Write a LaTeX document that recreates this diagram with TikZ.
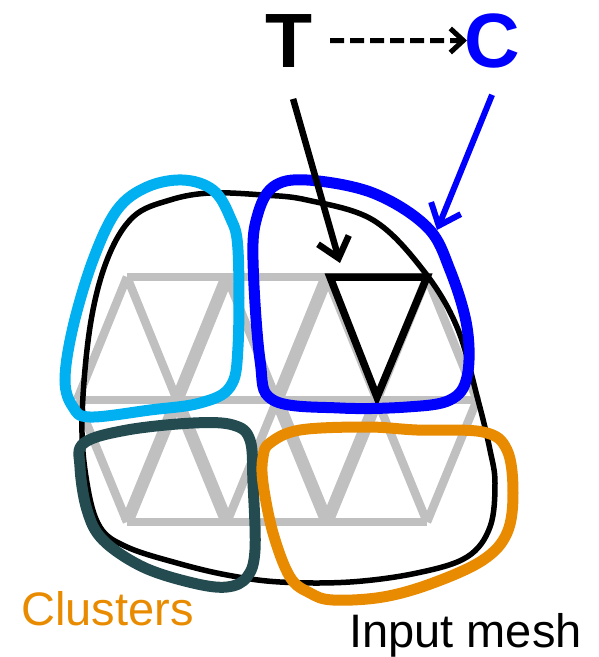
\documentclass[tikz,border=0pt]{standalone}
\usepackage{fontspec}
\setmainfont{Liberation Sans}
\usetikzlibrary{arrows.meta}
\definecolor{meshgray}{RGB}{192,192,192}
\definecolor{clcyan}{RGB}{0,176,240}
\definecolor{clblue}{RGB}{0,0,255}
\definecolor{clteal}{RGB}{35,75,80}
\definecolor{clorange}{RGB}{233,139,0}
\tikzset{
  edge/.style={meshgray, line width=8.5pt},
  wedge/.style={meshgray, line width=12.5pt},
  outline/.style={black, line width=5.5pt},
  cluster/.style={line width=11pt},
  barb/.style={-{Straight Barb[length=19pt,width=32pt]}, line width=6.5pt},
  label/.style={inner sep=0pt, anchor=base west},
}
\begin{document}
\begin{tikzpicture}[x=1pt,y=-1pt]
\useasboundingbox (0,0) rectangle (599,657);

% mesh vertices: top, middle and bottom rows
\foreach \i/\x in {0/127,1/227,2/327,3/427}{
  \coordinate (a\i) at (\x,277);
  \coordinate (c\i) at (\x,522);
}
\foreach \i/\x in {0/77,1/177,2/277,3/377,4/477}{
  \coordinate (b\i) at (\x,400);
}

% mesh edges
\draw[edge] (a0) -- (a3);
\draw[edge] (b0) -- (b4);
\draw[edge] (c0) -- (c3);
\draw[edge] (a0) -- (b0);
\draw[edge] (a0) -- (b1);
\draw[wedge] (a1) -- (b1);
\draw[edge] (a1) -- (b2);
\draw[wedge] (a2) -- (b2);
\draw[edge] (a2) -- (b3);
\draw[edge] (a3) -- (b3);
\draw[edge] (a3) -- (b4);
\draw[edge] (c0) -- (b0);
\draw[wedge] (c0) -- (b1);
\draw[wedge] (c1) -- (b1);
\draw[edge] (c1) -- (b2);
\draw[wedge] (c2) -- (b2);
\draw[wedge] (c2) -- (b3);
\draw[edge] (c3) -- (b3);
\draw[edge] (c3) -- (b4);

% selected triangle
\draw[black, line width=7.5pt, line join=miter] (330,277) -- (427,277) -- (377,397) -- cycle;

% outline of the input mesh
\draw[outline] plot[smooth cycle, tension=0.6] coordinates {
  (210,193) (263,195) (307,200) (373,220) (423,270) (457,327) (478,400)
  (490,450) (495,483) (490,527) (467,557) (417,573) (350,582) (280,582)
  (227,575) (177,563) (127,547) (100,527) (87,483) (82,420) (90,327)
  (107,260) (133,217) (170,200)};

% clusters
\draw[cluster, clcyan] plot[smooth cycle, tension=0.6] coordinates {
  (183,180) (213,190) (230,217) (238,250) (238,347) (230,387) (200,403)
  (150,410) (90,417) (73,407) (65,380) (73,327) (93,260) (117,210) (147,187)};
\draw[cluster, clblue] plot[smooth cycle, tension=0.6] coordinates {
  (307,180) (373,193) (427,227) (450,270) (467,327) (467,377) (450,400)
  (407,407) (340,408) (273,400) (260,360) (253,260) (257,217) (273,187)};
\draw[cluster, clteal] plot[smooth cycle, tension=0.6] coordinates {
  (127,430) (193,423) (233,425) (250,440) (253,483) (255,550) (247,577)
  (227,587) (193,583) (143,567) (103,540) (87,510) (80,467) (84,443)};
\draw[cluster, clorange] plot[smooth cycle, tension=0.6] coordinates {
  (300,430) (367,427) (417,430) (483,432) (507,450) (513,493) (507,533)
  (483,560) (433,583) (383,597) (333,600) (310,593) (290,577) (273,533)
  (263,483) (263,457) (270,443)};

% labels
\node[inner sep=0pt, anchor=base, font=\fontsize{77}{77}\selectfont\bfseries] (T) at (289,67) {T};
\node[inner sep=0pt, anchor=base, font=\fontsize{77}{77}\selectfont\bfseries, text=clblue] (C) at (492,67) {C};
\node[label, text=clorange, font=\fontsize{47}{47}\selectfont] (clusters) at (21,625) {Clusters};
\node[label, font=\fontsize{47}{47}\selectfont] (input) at (349,647) {Input mesh};

% arrows
\coordinate (tip-T) at (340,263);
\coordinate (tip-C) at (437,230);
\draw[barb, shorten <=33pt] ([xshift=-5pt]T.south) -- (tip-T);
\draw[barb, clblue, line width=6pt, shorten <=29pt] ([xshift=11pt]C.south) -- (tip-C);
\draw[-{Straight Barb[length=13pt,width=24pt]}, line width=5pt, dash pattern=on 14pt off 6pt,
  shorten <=41pt, shorten >=25pt] (T.center) -- (C.center);
\end{tikzpicture}
\end{document}
